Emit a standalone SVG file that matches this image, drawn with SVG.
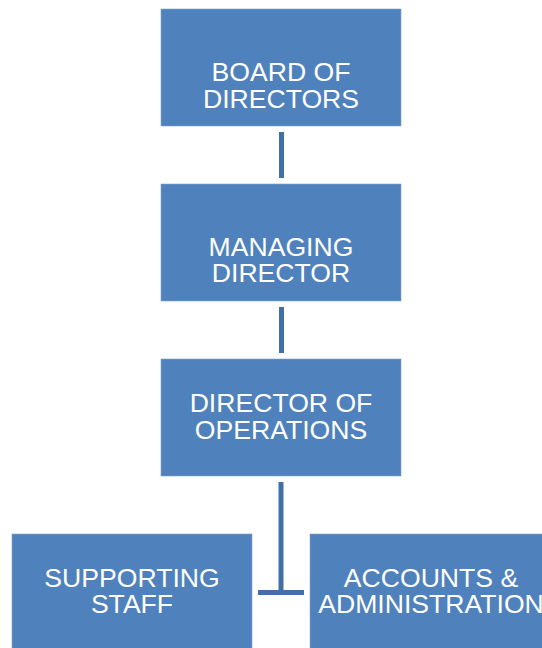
<svg xmlns="http://www.w3.org/2000/svg" width="542" height="648" viewBox="0 0 542 648">
<style>
.box{fill:#4F81BD;stroke:#7FA3CF;stroke-width:0.6}
.t{font-family:"Liberation Sans",Arial,sans-serif;font-size:26.6px;fill:#FFFFFF;text-anchor:middle}
.c{stroke:#4170A8;stroke-width:5;fill:none}
</style>
<rect width="542" height="648" fill="#FFFFFF"/>
<g id="connectors">
<line class="c" x1="281.5" y1="132" x2="281.5" y2="178"/>
<line class="c" x1="281.5" y1="307" x2="281.5" y2="353"/>
<line class="c" x1="281" y1="482" x2="281" y2="592.5"/>
<line class="c" x1="258" y1="592.5" x2="304" y2="592.5"/>
</g>
<g id="board">
<rect class="box" x="161" y="9" width="240" height="117"/>
<text class="t" x="281" y="81">BOARD OF</text>
<text class="t" x="281" y="108">DIRECTORS</text>
</g>
<g id="managing">
<rect class="box" x="161" y="184" width="240" height="117"/>
<text class="t" x="281" y="256">MANAGING</text>
<text class="t" x="281" y="282">DIRECTOR</text>
</g>
<g id="operations">
<rect class="box" x="161" y="359" width="240" height="117"/>
<text class="t" x="281" y="412">DIRECTOR OF</text>
<text class="t" x="281" y="439">OPERATIONS</text>
</g>
<g id="staff">
<rect class="box" x="12" y="534" width="240" height="117"/>
<text class="t" x="132" y="587">SUPPORTING</text>
<text class="t" x="132" y="613">STAFF</text>
</g>
<g id="accounts">
<rect class="box" x="310" y="534" width="240" height="117"/>
<text class="t" x="431" y="587">ACCOUNTS &amp;</text>
<text class="t" x="431" y="613">ADMINISTRATION</text>
</g>
</svg>
